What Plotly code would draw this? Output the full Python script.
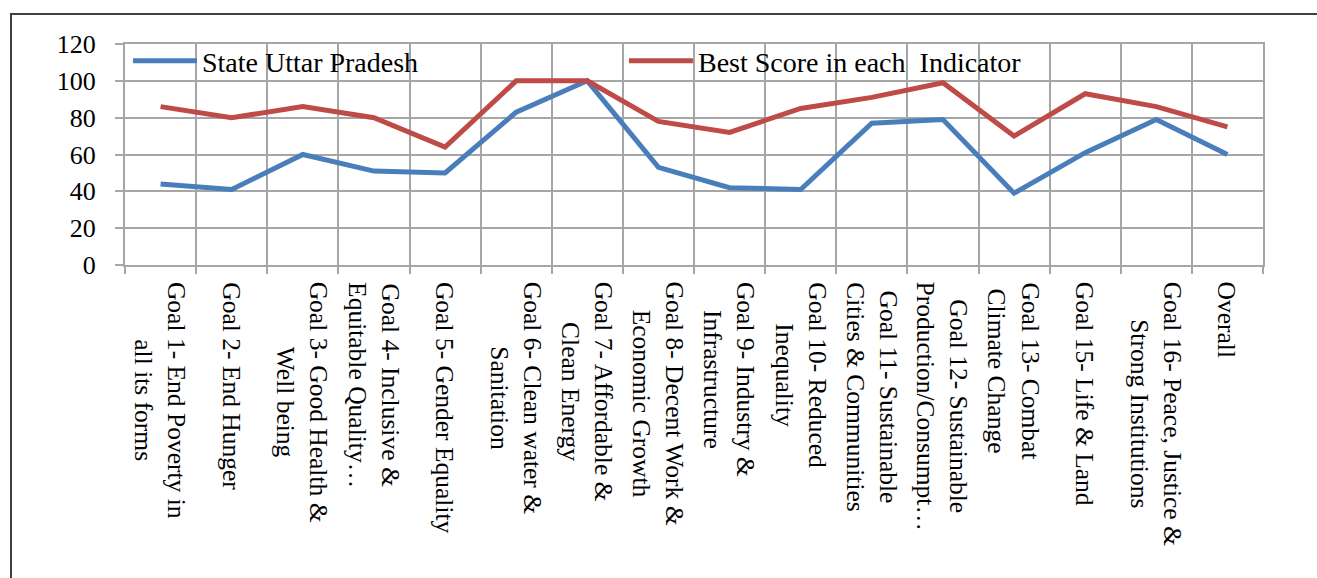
import plotly.graph_objects as go

categories = ["Goal 1", "Goal 2", "Goal 3", "Goal 4", "Goal 5", "Goal 6", "Goal 7", "Goal 8",
              "Goal 9", "Goal 10", "Goal 11", "Goal 12", "Goal 13", "Goal 15", "Goal 16", "Overall"]

tick_labels = [
    "Goal 1- End Poverty in<br>all its forms",
    "Goal 2- End Hunger",
    "Goal 3- Good Health &<br>Well being",
    "Goal 4- Inclusive &<br>Equitable Quality…",
    "Goal 5- Gender Equality",
    "Goal 6- Clean water &<br>Sanitation",
    "Goal 7- Affordable &<br>Clean Energy",
    "Goal 8- Decent Work &<br>Economic Growth",
    "Goal 9- Industry &<br>Infrastructure",
    "Goal 10- Reduced<br>Inequality",
    "Goal 11- Sustainable<br>Cities & Communities",
    "Goal 12- Sustainable<br>Production/Consumpt…",
    "Goal 13- Combat<br>Climate Change",
    "Goal 15- Life & Land",
    "Goal 16- Peace, Justice &<br>Strong Institutions",
    "Overall",
]

state_up = [44, 41, 60, 51, 50, 83, 100, 53, 42, 41, 77, 79, 39, 61, 79, 60]
best_score = [86, 80, 86, 80, 64, 100, 100, 78, 72, 85, 91, 99, 70, 93, 86, 75]

series_names = ["State Uttar Pradesh", "Best Score in each\u00a0 Indicator"]

FONT = "Liberation Serif"
GRID = "#a6a6a6"

fig = go.Figure()
fig.add_trace(go.Scatter(x=categories, y=state_up, mode="lines", name=series_names[0],
                         line=dict(color="#4a7ebb", width=5)))
fig.add_trace(go.Scatter(x=categories, y=best_score, mode="lines", name=series_names[1],
                         line=dict(color="#be4b48", width=5)))

W, H = 1317, 578
L, R, T, B = 125, 54, 44, 313
pw, ph = W - L - R, H - T - B

annotations = []
for cat, lab in zip(categories, tick_labels):
    annotations.append(dict(x=cat, xref="x", y=0, yref="paper", yshift=-15,
                            text=lab, textangle=90, showarrow=False,
                            xanchor="center", yanchor="top", align="center",
                            font=dict(family=FONT, size=25.5, color="black")))

fig.update_layout(
    width=W, height=H,
    margin=dict(l=L, r=R, t=T, b=B, pad=0),
    paper_bgcolor="white", plot_bgcolor="white",
    font=dict(family=FONT, color="black"),
    showlegend=True,
    legend=dict(orientation="h", x=0.0026, y=1.036, xanchor="left", yanchor="top",
                bgcolor="rgba(0,0,0,0)", font=dict(family=FONT, size=28, color="black"),
                itemwidth=64, entrywidth=417, tracegroupgap=0),
    xaxis=dict(type="category", range=[-0.5, 15.5], tickson="boundaries",
               showgrid=True, gridcolor=GRID, gridwidth=2,
               ticks="outside", ticklen=7, tickcolor=GRID, tickwidth=2,
               showticklabels=False, showline=True, linecolor=GRID, linewidth=2, mirror=True,
               fixedrange=True),
    yaxis=dict(range=[0, 120], dtick=20, tick0=0, showgrid=True, gridcolor=GRID, gridwidth=2,
               zeroline=False, ticks="outside", ticklen=8, tickcolor=GRID, tickwidth=2,
               showline=True, linecolor=GRID, linewidth=2, mirror=True,
               tickfont=dict(family=FONT, size=26, color="black"), ticklabelstandoff=14,
               fixedrange=True),
    annotations=annotations,
    shapes=[dict(type="rect", xref="paper", yref="paper",
                 x0=(11 - L) / pw, x1=(1330 - L) / pw,
                 y0=(H - B - 600) / ph, y1=(H - B - 14) / ph,
                 line=dict(color="#404040", width=2), fillcolor="rgba(0,0,0,0)", layer="below")],
)

fig.write_html("out.html")
